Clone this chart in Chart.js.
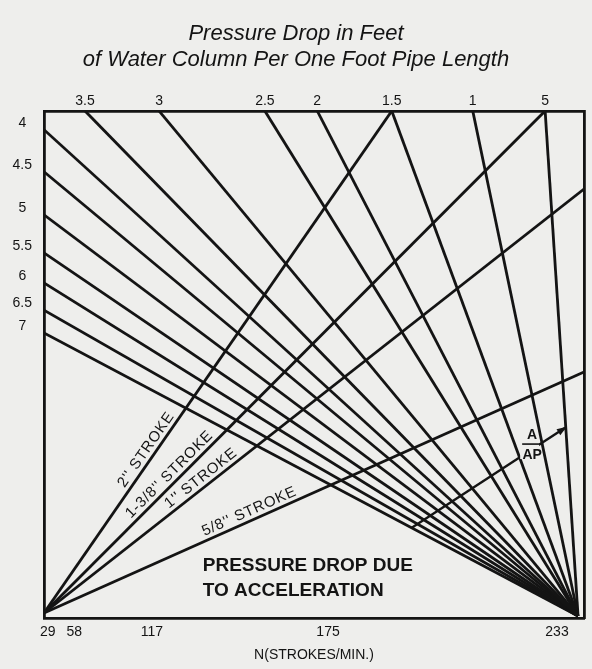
<!DOCTYPE html>
<html>
<head>
<meta charset="utf-8">
<script src="https://cdn.jsdelivr.net/npm/chart.js@4.4.1/dist/chart.umd.min.js"></script>
<style>
  body { margin: 0; background: #eeeeec; }
  #wrap { width: 592px; height: 669px; }
</style>
</head>
<body>
<div id="wrap"><canvas id="nomo" width="592" height="669"></canvas></div>
<script>
// nomograph frame runs 0..100 on both axes

/* --------------- top scale (pressure drop per ft)  --------------------- */
const topLabels = ['3.5', '3', '2.5', '2', '1.5', '1', '5'];
const topX = [7.6, 21.3, 40.9, 50.6, 64.4, 79.4, 92.8];

/* --------------- left scale  --------------------- */
const leftLabels = ['4', '4.5', '5', '5.5', '6', '6.5', '7'];
const leftY = [96.3, 88.0, 79.5, 72.0, 66.1, 60.7, 56.2];

/* --------------- bottom scale N (strokes/min)  --------------------- */
const nLabels = ['29', '58', '117', '175', '233'];
const nX = [0.7, 5.6, 20.0, 52.6, 95.0];

// all pressure lines meet here
const fanOrigin = { x: 98.9, y: 0.4 };

/* --------------- stroke lines  --------------------- */
const strokeNames = ["2'' STROKE", "1-3/8'' STROKE", "1'' STROKE", "5/8'' STROKE"];
const strokeOrigin = { x: 0, y: 1.0 };
const strokeEnds = [
  { x: 64.4, y: 100 },
  { x: 92.8, y: 100 },
  { x: 100, y: 84.6 },
  { x: 100, y: 48.5 }
];
const strokeLabelAt = [0.315, 0.263, 0.301, 0.387];

// A/AP arrow
const apLine = [{ x: 68.1, y: 17.8 }, { x: 96.5, y: 37.5 }];

const ink = '#141414';
const paper = '#eeeeec';
const lineW = 2.8;

function seg(a, b) {
  return {
    data: [a, b],
    showLine: true,
    borderColor: ink,
    borderWidth: lineW,
    pointRadius: 0,
    fill: false
  };
}

let datasets = [];
for (let i = 0; i < topX.length; i++) datasets.push(seg({ x: topX[i], y: 100 }, fanOrigin));
for (let i = 0; i < leftY.length; i++) datasets.push(seg({ x: 0, y: leftY[i] }, fanOrigin));
for (let e of strokeEnds) datasets.push(seg(strokeOrigin, e));
const apSet = seg(apLine[0], apLine[1]);
apSet.borderWidth = 2.4;
datasets.push(apSet);

const notes = {
  id: 'notes',
  afterDatasetsDraw(chart) {
    const ctx = chart.ctx;
    const xs = chart.scales.x, ys = chart.scales.y;
    const px = p => ({ x: xs.getPixelForValue(p.x), y: ys.getPixelForValue(p.y) });
    ctx.save();
    ctx.fillStyle = ink;

    // stroke labels along lines
    ctx.font = '15px "Liberation Sans", Arial, sans-serif';
    try { ctx.letterSpacing = '0.8px'; } catch (e) {}
    ctx.textAlign = 'center';
    ctx.textBaseline = 'middle';
    const o = px(strokeOrigin);
    strokeEnds.forEach((end, i) => {
      const e = px(end);
      const a = Math.atan2(e.y - o.y, e.x - o.x);
      const t = strokeLabelAt[i];
      const cx = o.x + (e.x - o.x) * t + Math.sin(a) * 9;
      const cy = o.y + (e.y - o.y) * t - Math.cos(a) * 9;
      ctx.save();
      ctx.translate(cx, cy);
      ctx.rotate(a);
      ctx.fillText(strokeNames[i], 0, 0);
      ctx.restore();
    });
    try { ctx.letterSpacing = '0px'; } catch (e) {}

    // arrow head on A/AP
    const a0 = px(apLine[0]), a1 = px(apLine[1]);
    const ang = Math.atan2(a1.y - a0.y, a1.x - a0.x);
    ctx.save();
    ctx.translate(a1.x, a1.y);
    ctx.rotate(ang);
    ctx.beginPath();
    ctx.moveTo(2, 0);
    ctx.lineTo(-8, -3.5);
    ctx.lineTo(-8, 3.5);
    ctx.closePath();
    ctx.fill();
    ctx.restore();

    // A / AP fraction, cut into the arrow line
    const f = px({ x: 90.4, y: 34.3 });
    ctx.fillStyle = paper;
    ctx.fillRect(f.x - 12, f.y - 5, 19, 20);
    ctx.fillStyle = ink;
    ctx.font = 'bold 14px "Liberation Sans", Arial, sans-serif';
    ctx.fillText('A', f.x, f.y - 9);
    ctx.fillText('AP', f.x, f.y + 11);
    ctx.fillRect(f.x - 10, f.y - 0.8, 20, 1.6);

    // block caption
    ctx.font = 'bold 19px "Liberation Sans", Arial, sans-serif';
    ctx.textAlign = 'left';
    const c1 = px({ x: 29.4, y: 10.3 });
    const c2 = px({ x: 29.4, y: 5.3 });
    ctx.fillText('PRESSURE DROP DUE', c1.x, c1.y);
    ctx.fillText('TO ACCELERATION', c2.x, c2.y);
    ctx.restore();
  }
};

const tickFont = { family: '"Liberation Sans", Arial, sans-serif', size: 14 };
const border = { display: true, color: ink, width: 2.8 };

new Chart(document.getElementById('nomo'), {
  type: 'scatter',
  data: { datasets: datasets },
  plugins: [notes],
  options: {
    responsive: false,
    animation: false,
    events: [],
    layout: { padding: 0 },
    plugins: {
      legend: { display: false },
      tooltip: { enabled: false },
      title: {
        display: true,
        text: ['Pressure Drop in Feet', 'of Water Column Per One Foot Pipe Length'],
        color: ink,
        font: { family: '"Liberation Sans", Arial, sans-serif', size: 22, style: 'italic', weight: 'normal', lineHeight: 1.18 },
        padding: { top: 21, bottom: 2 }
      }
    },
    scales: {
      x: {
        type: 'linear', position: 'bottom', min: 0, max: 100,
        grid: { display: false, drawTicks: false },
        border: border,
        afterBuildTicks: (axis) => { axis.ticks = nX.map(v => ({ value: v })); },
        afterFit: (axis) => { axis.height = 51; },
        ticks: {
          autoSkip: false, maxRotation: 0, padding: 6, color: ink, font: tickFont,
          callback: (v, i) => nLabels[i]
        },
        title: {
          display: true, text: 'N(STROKES/MIN.)', color: ink,
          font: { family: '"Liberation Sans", Arial, sans-serif', size: 14 },
          padding: { top: 0, bottom: 5 }
        }
      },
      x2: {
        type: 'linear', position: 'top', min: 0, max: 100,
        grid: { display: false, drawTicks: false },
        border: border,
        afterBuildTicks: (axis) => { axis.ticks = topX.map(v => ({ value: v })); },
        afterFit: (axis) => { axis.height = 36; },
        ticks: {
          autoSkip: false, maxRotation: 0, padding: 1, color: ink, font: tickFont,
          callback: (v, i) => topLabels[i]
        }
      },
      y: {
        type: 'linear', position: 'left', min: 0, max: 100,
        grid: { display: false, drawTicks: false },
        border: border,
        afterBuildTicks: (axis) => { axis.ticks = leftY.map(v => ({ value: v })); },
        afterFit: (axis) => { axis.width = 44; },
        ticks: {
          autoSkip: false, padding: 12, crossAlign: 'center', labelOffset: -7,
          color: ink, font: tickFont,
          callback: (v, i) => leftLabels[i]
        }
      },
      y2: {
        type: 'linear', position: 'right', min: 0, max: 100,
        grid: { display: false, drawTicks: false },
        border: border,
        afterFit: (axis) => { axis.width = 8; },
        ticks: { display: false }
      }
    }
  }
});
</script>
</body>
</html>
